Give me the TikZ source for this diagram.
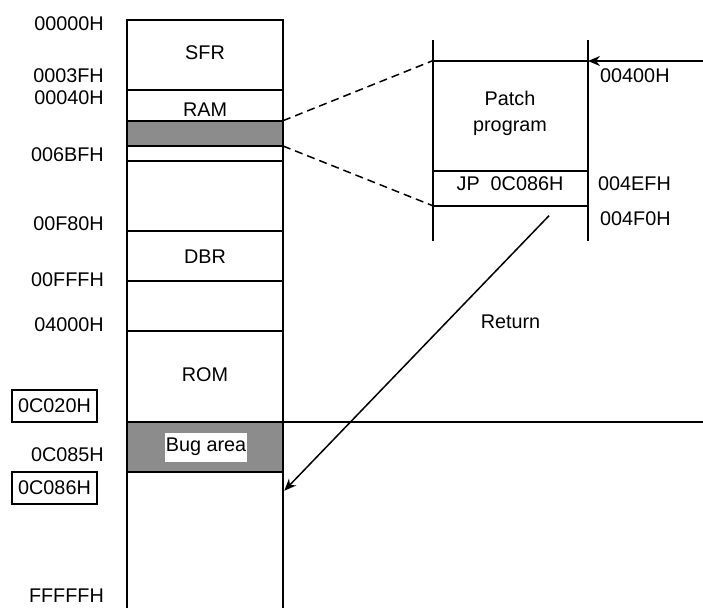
\documentclass[tikz,border=0pt]{standalone}
\usepackage{fontspec}
\setmainfont{Liberation Sans}
\usetikzlibrary{arrows.meta}
\begin{document}
\begin{tikzpicture}[x=1pt,y=-1pt,
  every node/.style={font=\fontsize{19.8}{22}\selectfont},
  ln/.style={line width=1.7pt},
  addr/.style={anchor=east,inner sep=0pt},
  raddr/.style={anchor=west,inner sep=0pt},
  baddr/.style={draw,line width=1.5pt,minimum width=85pt,minimum height=32pt,inner sep=0pt},
  shade/.style={fill=black!45},
  arr/.style={line width=1.5pt,-{Stealth[length=12pt,width=10pt]}}]
\useasboundingbox (0,0) rectangle (703,608);
% main column
\fill[shade] (127,120.7) rectangle (283,146);
\fill[shade] (127,421.7) rectangle (283,471.7);
\draw[ln] (127,608) -- (127,20) -- (283,20) -- (283,608);
\foreach \yy in {90,120.7,146,160.7,231,281,331,421.7,471.7}
  \draw[ln] (127,\yy) -- (283,\yy);
\draw[ln] (283,421.7) -- (703,421.7);
% section labels
\node[inner sep=0pt] (sfr) at (205,53) {SFR};
\node[inner sep=0pt] (ram) at (205,110) {RAM};
\node[inner sep=0pt] (dbr) at (205,257) {DBR};
\node[inner sep=0pt] (rom) at (205,375) {ROM};
\node[fill=white,minimum width=82pt,minimum height=29pt,inner sep=0pt] (bug) at (206,447) {Bug area};
% address labels
\node[addr] (a0) at (104,24) {00000H};
\node[addr] (a1) at (104,75.5) {0003FH};
\node[addr] (a2) at (104,97.5) {00040H};
\node[addr] (a3) at (104,155) {006BFH};
\node[addr] (a4) at (104,224) {00F80H};
\node[addr] (a5) at (104,280) {00FFFH};
\node[addr] (a6) at (104,325) {04000H};
\node[baddr] (a7) at (54.5,406) {0C020H};
\node[addr] (a8) at (104,455) {0C085H};
\node[baddr] (a9) at (54.5,488) {0C086H};
\node[addr] (a10) at (104,596) {FFFFFH};
% patch region
\draw[ln] (432.7,40) -- (432.7,240.7);
\draw[ln] (588,40) -- (588,240.7);
\draw[ln] (432.7,60.7) -- (588,60.7);
\draw[ln] (432.7,170.7) -- (588,170.7);
\draw[ln] (432.7,205.7) -- (588,205.7);
\node[align=center,inner sep=0pt,font=\fontsize{19.8}{25.5}\selectfont] (patch) at (510,113.5) {Patch\\program};
\node[inner sep=0pt] (jp) at (510,184) {JP\ \ 0C086H};
\node[raddr] (p1) at (600,75.5) {00400H};
\node[raddr] (p2) at (598,184) {004EFH};
\node[raddr] (p3) at (600,219) {004F0H};
% dashed zoom lines
\coordinate (z1) at (283,120.7);
\coordinate (z2) at (432.7,60.7);
\coordinate (z3) at (283,146);
\coordinate (z4) at (432.7,205.7);
\draw[line width=1.5pt,dash pattern=on 8pt off 5pt] (z1) -- (z2);
\draw[line width=1.5pt,dash pattern=on 8pt off 5pt] (z3) -- (z4);
% arrows
\coordinate (in0) at (703,61);
\coordinate (in1) at (588,61);
\draw[arr] (in0) -- (in1);
\coordinate (r0) at (549,215.7);
\coordinate (r1) at (284.3,490.7);
\draw[arr] (r0) -- (r1);
\node[inner sep=0pt] (ret) at (510.5,322) {Return};
\end{tikzpicture}
\end{document}
